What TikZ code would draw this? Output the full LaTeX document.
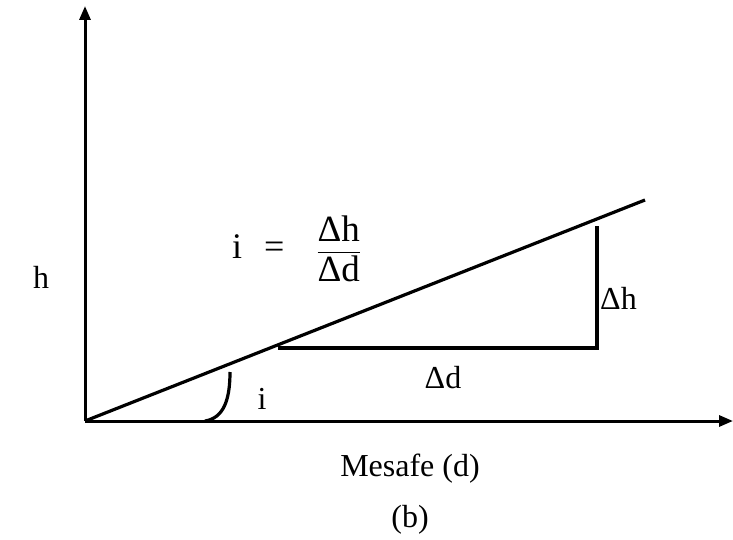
\documentclass[tikz,border=0pt]{standalone}
\usepackage{amsmath}
\usepackage{fontspec}
\setmainfont{Liberation Serif}
\usepackage{tikz}
\usetikzlibrary{positioning, arrows.meta}

\newcommand{\bigtxt}[1]{\text{\fontsize{37}{44}\selectfont #1}}

\begin{document}
\begin{tikzpicture}[
    x=1pt, y=1pt,
    font=\fontsize{32}{38}\selectfont,
    >={Triangle[length=14pt,width=11pt]},
    axis/.style={
        ->,
        line width=3pt
    },
    seg/.style={
        line width=3.2pt
    },
    lbl/.style={
        inner sep=0pt
    }
]
\useasboundingbox (0,0) rectangle (733,539);

% Axes
\coordinate (o)    at (85,118);
\coordinate (ytop) at (85,533);
\coordinate (xend) at (733,118);
\draw[axis] (o) -- (ytop);
\draw[axis] (o) -- (xend);

% Sloped line and the step below it
\coordinate (lend) at (645,339);
\coordinate (hs)   at (278,191);
\coordinate (corner) at (597,191);
\coordinate (vtop) at (597,313);
\draw[seg] (o) -- (lend);
\draw[seg] (hs) -- (corner) -- (vtop);

% Angle mark
\coordinate (as) at (205,118);
\coordinate (ae) at (230,167);
\draw[seg] (as) .. controls (224,121) and (230,140) .. (ae);

% Labels
\node[lbl] (h)     at (41,262)  {h};
\node[lbl, anchor=west] (eq) at (232,290)
    {\fontsize{36}{42}\selectfont i\hspace{22pt}=\hspace{32pt}$\dfrac{\bigtxt{Δh}}{\bigtxt{Δd}}$};
\node[lbl, right=3pt of corner, yshift=50pt, anchor=west] (dh) {Δh};
\node[lbl] (dd)    at (443,161) {Δd};
\node[lbl] (ilbl)  at (262,140) {i};
\node[lbl] (xname) at (410,70)  {Mesafe (d)};
\node[lbl] (tag)   at (410,19)  {(b)};

\end{tikzpicture}
\end{document}
